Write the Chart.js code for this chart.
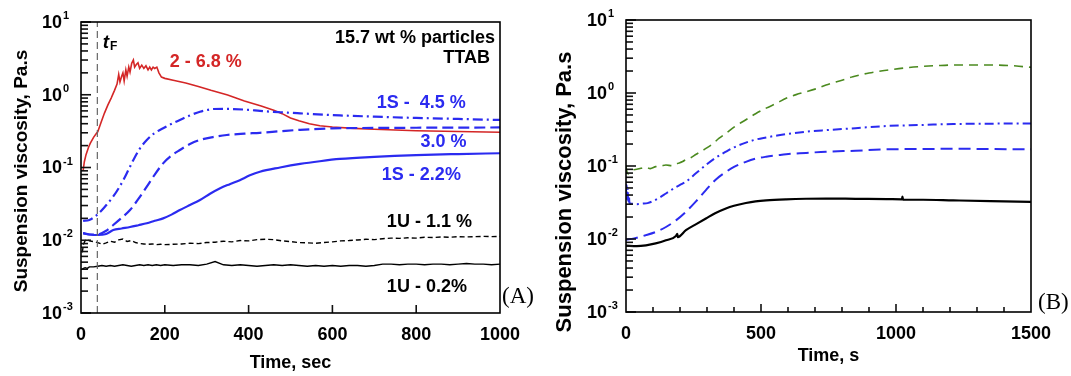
<!DOCTYPE html>
<html>
<head>
<meta charset="utf-8">
<script src="https://cdn.jsdelivr.net/npm/chart.js@4.4.1/dist/chart.umd.min.js"></script>
<style>
  body { margin: 0; background: #fff; }
  #wrap { position: relative; width: 1071px; height: 376px; overflow: hidden; }
  canvas { position: absolute; top: 0; }
  #chartA { left: 0; }
  #chartB { left: 540px; }
</style>
</head>
<body>
<div id="wrap">
  <canvas id="chartA" width="540" height="376"></canvas>
  <canvas id="chartB" width="531" height="376"></canvas>
</div>
<script>
// ---- panel A: time (sec) / viscosity (Pa.s) ----
const tRedA = [5, 8, 12, 18, 22, 30, 37, 40, 48, 56, 64, 72, 80, 86, 90, 93, 97, 100, 103, 107, 110, 114, 117, 121, 125, 128, 132, 136, 140, 145, 150, 155, 160, 164, 168, 172, 176, 181, 186, 192, 200, 220, 250, 280, 310, 350, 390, 430, 460, 480, 500, 520, 545, 570, 600, 650, 700, 800, 900, 1000];
const vRedA = [0.09, 0.12, 0.15, 0.19, 0.215, 0.26, 0.295, 0.31, 0.42, 0.56, 0.72, 0.9, 1.15, 1.4, 1.9, 1.5, 1.8, 2.0, 1.55, 2.2, 1.8, 2.4, 2.05, 2.7, 3.0, 2.4, 2.6, 2.75, 2.3, 2.55, 2.3, 2.5, 2.2, 2.4, 2.2, 2.4, 2.3, 2.4, 2.0, 1.75, 1.68, 1.58, 1.45, 1.3, 1.15, 0.99, 0.82, 0.7, 0.61, 0.55, 0.48, 0.44, 0.4, 0.375, 0.36, 0.345, 0.335, 0.32, 0.312, 0.305];

const tDotA = [5, 20, 37, 55, 77, 90, 101, 113, 125, 140, 157, 175, 196, 215, 236, 260, 284, 300, 316, 340, 364, 400, 427, 475, 523, 618, 700, 800, 900, 1000];
const vDotA = [0.0185, 0.019, 0.022, 0.028, 0.04, 0.052, 0.067, 0.092, 0.127, 0.18, 0.239, 0.295, 0.346, 0.395, 0.45, 0.52, 0.585, 0.615, 0.637, 0.64, 0.635, 0.62, 0.6, 0.575, 0.555, 0.52, 0.5, 0.48, 0.465, 0.45];

const tDashA = [5, 20, 40, 60, 77, 97, 117, 137, 157, 176, 196, 216, 236, 260, 284, 315, 348, 390, 427, 475, 523, 600, 700, 800, 1000];
const vDashA = [0.0125, 0.012, 0.012, 0.0135, 0.0162, 0.0203, 0.026, 0.037, 0.0545, 0.08, 0.114, 0.146, 0.174, 0.21, 0.239, 0.262, 0.28, 0.292, 0.3, 0.315, 0.33, 0.345, 0.35, 0.352, 0.355];

const tSolA = [5, 20, 40, 60, 77, 97, 117, 137, 157, 176, 196, 216, 236, 260, 284, 308, 332, 355, 379, 403, 427, 475, 523, 570, 618, 700, 800, 900, 1000];
const vSolA = [0.0125, 0.012, 0.0118, 0.0122, 0.0138, 0.0145, 0.0152, 0.0161, 0.0171, 0.0185, 0.02, 0.0225, 0.026, 0.0305, 0.0357, 0.0435, 0.0518, 0.059, 0.067, 0.078, 0.0875, 0.1, 0.112, 0.122, 0.131, 0.14, 0.148, 0.153, 0.157];

const tUA = [3, 6, 10, 15, 20, 30, 40, 50, 60, 70, 80, 90, 100, 110, 120, 130, 140, 150, 160, 170, 180, 190, 200, 220, 240, 260, 280, 300, 320, 340, 360, 380, 400, 420, 440, 460, 480, 500, 520, 540, 560, 580, 600, 620, 640, 660, 680, 700, 720, 740, 760, 780, 800, 820, 840, 860, 880, 900, 920, 940, 960, 980, 1000];
const vU11A = [0.0068, 0.0088, 0.0099, 0.0103, 0.0098, 0.0096, 0.0093, 0.0088, 0.0092, 0.0097, 0.0094, 0.0101, 0.0104, 0.0096, 0.0099, 0.0093, 0.009, 0.0089, 0.0088, 0.0089, 0.0087, 0.0088, 0.0087, 0.0088, 0.0089, 0.0091, 0.009, 0.0093, 0.0094, 0.0097, 0.0095, 0.0099, 0.0098, 0.0102, 0.0103, 0.0102, 0.0098, 0.0096, 0.0093, 0.0092, 0.0091, 0.0093, 0.0095, 0.0098, 0.0099, 0.0101, 0.0103, 0.0102, 0.0105, 0.0107, 0.0106, 0.0108, 0.0107, 0.011, 0.0109, 0.0111, 0.011, 0.0112, 0.0111, 0.0112, 0.0113, 0.0112, 0.0113];
const vU02A = [0.004, 0.0041, 0.0042, 0.0041, 0.0043, 0.0043, 0.0044, 0.0045, 0.0044, 0.0045, 0.0044, 0.0045, 0.0046, 0.0045, 0.0044, 0.0045, 0.0046, 0.0045, 0.0046, 0.0045, 0.0046, 0.0045, 0.0046, 0.0045, 0.0046, 0.0046, 0.0045, 0.0047, 0.0051, 0.0046, 0.0045, 0.0046, 0.0045, 0.0044, 0.0045, 0.0046, 0.0045, 0.0046, 0.0045, 0.0044, 0.0045, 0.0044, 0.0045, 0.0044, 0.0045, 0.0045, 0.0044, 0.0045, 0.0047, 0.0047, 0.0046, 0.0047, 0.0047, 0.0046, 0.0047, 0.0047, 0.0046, 0.0047, 0.0048, 0.0047, 0.0047, 0.0046, 0.0047];

const tFlocA = [39, 39];
const vFlocA = [0.001, 10];

// ---- panel B: time (s) / viscosity (Pa.s) ----
const tGrnB = [0, 3, 8, 15, 25, 40, 55, 74, 90, 110, 130, 148, 170, 190, 210, 222, 240, 260, 280, 296, 320, 345, 370, 400, 444, 480, 519, 560, 593, 630, 667, 700, 741, 800, 840, 900, 965, 1030, 1089, 1150, 1212, 1336, 1420, 1470, 1500];
const vGrnB = [0.1, 0.085, 0.078, 0.082, 0.088, 0.09, 0.093, 0.096, 0.092, 0.098, 0.1, 0.103, 0.101, 0.108, 0.115, 0.123, 0.13, 0.145, 0.16, 0.174, 0.2, 0.24, 0.28, 0.34, 0.43, 0.52, 0.62, 0.73, 0.85, 0.95, 1.04, 1.13, 1.29, 1.5, 1.67, 1.88, 2.05, 2.2, 2.3, 2.37, 2.42, 2.42, 2.38, 2.3, 2.25];

const tDotB = [0, 2, 4, 6, 8, 10, 13, 20, 40, 60, 80, 100, 125, 148, 180, 200, 222, 260, 296, 330, 370, 400, 444, 480, 519, 560, 593, 667, 741, 850, 965, 1100, 1212, 1350, 1500];
const vDotB = [0.045, 0.055, 0.035, 0.05, 0.033, 0.042, 0.031, 0.0305, 0.03, 0.0305, 0.031, 0.033, 0.037, 0.042, 0.05, 0.055, 0.061, 0.08, 0.103, 0.128, 0.157, 0.18, 0.209, 0.23, 0.246, 0.262, 0.274, 0.295, 0.31, 0.33, 0.353, 0.365, 0.376, 0.38, 0.383];

const tDashB = [0, 30, 74, 110, 148, 185, 222, 260, 296, 330, 370, 400, 444, 480, 519, 560, 593, 667, 741, 850, 965, 1100, 1212, 1350, 1500];
const vDashB = [0.0098, 0.0102, 0.0113, 0.0125, 0.0146, 0.018, 0.0236, 0.033, 0.0468, 0.064, 0.083, 0.097, 0.114, 0.126, 0.134, 0.14, 0.145, 0.151, 0.157, 0.162, 0.169, 0.171, 0.172, 0.171, 0.169];

const tBlkB = [0, 40, 74, 110, 148, 185, 190, 192, 222, 260, 296, 330, 370, 400, 444, 480, 519, 593, 667, 741, 850, 965, 1022, 1024, 1026, 1100, 1212, 1350, 1500];
const vBlkB = [0.0081, 0.008, 0.0082, 0.0087, 0.0096, 0.011, 0.0118, 0.0106, 0.0132, 0.016, 0.0191, 0.0225, 0.0262, 0.0285, 0.0311, 0.0328, 0.0339, 0.035, 0.0356, 0.0358, 0.0355, 0.0352, 0.035, 0.038, 0.0345, 0.0345, 0.0338, 0.033, 0.0323];

const decades = [-3, -2, -1, 0, 1];

const FONT = '"Liberation Sans", Arial, sans-serif';
const BLUE = '#2b2bf0';
const RED = '#d42626';
const GREEN = '#4b8a1f';

function pts(t, v) {
  return t.map((x, i) => ({ x: x, y: v[i] }));
}

function line(t, v, color, width, dash, smooth) {
  return {
    data: pts(t, v),
    borderColor: color,
    borderWidth: width,
    borderDash: dash || [],
    pointRadius: 0,
    fill: false,
    cubicInterpolationMode: smooth ? 'monotone' : 'default',
    tension: 0
  };
}

// box, inward ticks, 10^n labels, y title and the text notes
const framePlugin = {
  id: 'frame',
  afterDraw(chart) {
    const o = chart.options.plugins.frame;
    const ctx = chart.ctx;
    const a = chart.chartArea;
    const xs = chart.scales.x;
    const ys = chart.scales.y;
    ctx.save();
    ctx.setLineDash([]);
    ctx.strokeStyle = '#111';
    ctx.lineWidth = 1.6;
    ctx.lineCap = 'butt';
    const tick = (x1, y1, x2, y2) => {
      ctx.beginPath();
      ctx.moveTo(x1, y1);
      ctx.lineTo(x2, y2);
      ctx.stroke();
    };
    decades.forEach(d => {
      const y = ys.getPixelForValue(Math.pow(10, d));
      tick(a.left, y, a.left + 10, y);
      if (d < 1) {
        for (let m = 2; m < 10; m++) {
          const ym = ys.getPixelForValue(m * Math.pow(10, d));
          tick(a.left, ym, a.left + 7, ym);
        }
      }
    });
    o.xMajor.forEach(v => {
      const x = xs.getPixelForValue(v);
      tick(x, a.bottom, x, a.bottom - 8);
    });
    o.xMinor.forEach(v => {
      const x = xs.getPixelForValue(v);
      tick(x, a.bottom, x, a.bottom - 5);
    });

    ctx.strokeStyle = '#000';
    ctx.lineWidth = 1.6;
    ctx.strokeRect(a.left, a.top, a.right - a.left, a.bottom - a.top);

    // y tick labels
    ctx.fillStyle = '#000';
    decades.forEach(d => {
      const y = ys.getPixelForValue(Math.pow(10, d));
      ctx.font = 'bold 18px ' + FONT;
      ctx.textAlign = 'right';
      ctx.textBaseline = 'middle';
      ctx.fillText('10', a.left - 19, y + 1);
      ctx.font = 'bold 11px ' + FONT;
      ctx.textAlign = 'left';
      ctx.fillText(String(d), a.left - 18, y - 6);
    });

    // y title
    ctx.save();
    ctx.translate(o.yTitleX, o.yTitleY);
    ctx.rotate(-Math.PI / 2);
    ctx.font = 'bold ' + o.yTitleSize + 'px ' + FONT;
    ctx.textAlign = 'center';
    ctx.textBaseline = 'middle';
    ctx.fillText('Suspension viscosity, Pa.s', 0, 0);
    ctx.restore();

    // notes
    o.notes.forEach(n => {
      const x = xs.getPixelForValue(n.x);
      const y = ys.getPixelForValue(n.y);
      ctx.font = n.font || ('bold 18px ' + FONT);
      ctx.fillStyle = n.color || '#000';
      ctx.textAlign = n.align || 'left';
      ctx.textBaseline = 'middle';
      ctx.fillText(n.text, x, y);
      if (n.sub) {
        const w = ctx.measureText(n.text).width;
        ctx.font = 'bold 12px ' + FONT;
        ctx.fillText(n.sub, x + w + 1, y + 4);
      }
    });
    ctx.restore();
  }
};

function xAxis(max, step, title, titlePad, height) {
  return {
    type: 'linear',
    min: 0,
    max: max,
    grid: { display: false, drawTicks: false },
    border: { display: false },
    ticks: {
      stepSize: step, color: '#000', padding: 11,
      font: { family: FONT, size: 18, weight: 'bold' },
      callback: v => String(v)
    },
    title: { display: true, text: title, color: '#000', padding: { top: 0, bottom: titlePad }, font: { family: FONT, size: 18, weight: 'bold' } },
    afterFit: s => { s.height = height; }
  };
}

const yAxis = { type: 'logarithmic', min: 0.001, max: 10, display: false };

new Chart(document.getElementById('chartA'), {
  type: 'line',
  data: {
    datasets: [
      line(tFlocA, vFlocA, '#666', 1.2, [7, 4]),
      line(tUA, vU02A, '#000', 1.4),
      line(tUA, vU11A, '#000', 1.4, [5, 3]),
      line(tSolA, vSolA, BLUE, 2.2, [], true),
      line(tDashA, vDashA, BLUE, 2.2, [11, 5], true),
      line(tDotA, vDotA, BLUE, 2.2, [10, 4, 2, 4], true),
      line(tRedA, vRedA, RED, 1.6)
    ]
  },
  options: {
    responsive: false,
    animation: false,
    layout: { padding: { left: 81, right: 40, top: 22, bottom: 0 } },
    scales: { x: xAxis(1000, 200, 'Time, sec', 2, 63), y: yAxis },
    plugins: {
      legend: { display: false },
      tooltip: { enabled: false },
      frame: {
        xMajor: [200, 400, 600, 800],
        xMinor: [],
        yTitleX: 22, yTitleY: 171, yTitleSize: 19,
        notes: [
          { text: 't', sub: 'F', x: 52, y: 5.2, font: 'italic bold 19px ' + FONT },
          { text: '15.7 wt % particles', x: 988, y: 5.97, align: 'right' },
          { text: 'TTAB', x: 976, y: 3.17, align: 'right' },
          { text: '2 - 6.8 %', x: 212, y: 2.85, color: RED },
          { text: '1S -  4.5 %', x: 706, y: 0.77, color: BLUE },
          { text: '3.0 %', x: 920, y: 0.226, align: 'right', color: BLUE },
          { text: '1S - 2.2%', x: 718, y: 0.0788, color: BLUE },
          { text: '1U - 1.1 %', x: 730, y: 0.018 },
          { text: '1U - 0.2%', x: 730, y: 0.0023 },
          { text: '(A)', x: 1005, y: 0.00166, font: '23px "Liberation Serif", "Times New Roman", serif' }
        ]
      }
    }
  },
  plugins: [framePlugin]
});

new Chart(document.getElementById('chartB'), {
  type: 'line',
  data: {
    datasets: [
      line(tBlkB, vBlkB, '#000', 2.2, [], true),
      line(tDashB, vDashB, BLUE, 2, [12, 6], true),
      line(tDotB, vDotB, BLUE, 2, [9, 4, 2, 4], true),
      line(tGrnB, vGrnB, GREEN, 1.6, [9, 6], true)
    ]
  },
  options: {
    responsive: false,
    animation: false,
    layout: { padding: { left: 86, right: 40, top: 20, bottom: 0 } },
    scales: { x: xAxis(1500, 500, 'Time, s', 9, 64), y: yAxis },
    plugins: {
      legend: { display: false },
      tooltip: { enabled: false },
      frame: {
        xMajor: [500, 1000],
        xMinor: [100, 200, 300, 400, 600, 700, 800, 900, 1100, 1200, 1300, 1400],
        yTitleX: 25, yTitleY: 192, yTitleSize: 22,
        notes: [
          { text: '(B)', x: 1526, y: 0.00133, font: '23px "Liberation Serif", "Times New Roman", serif' }
        ]
      }
    }
  },
  plugins: [framePlugin]
});
</script>
</body>
</html>
